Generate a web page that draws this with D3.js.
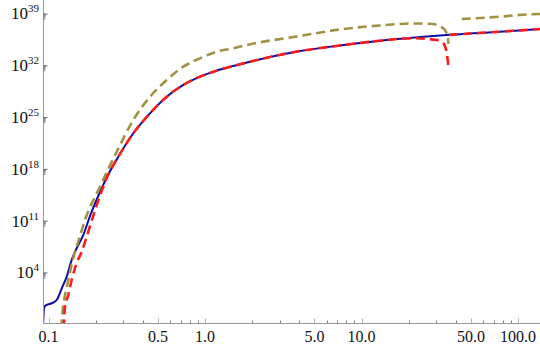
<!DOCTYPE html>
<html>
<head>
<meta charset="utf-8">
<script src="https://cdn.jsdelivr.net/npm/d3@7"></script>
<style>
  html, body { margin: 0; padding: 0; background: #fff; }
  svg { display: block; }
</style>
</head>
<body>
<svg id="chart" width="540" height="346"></svg>
<script>
// ---------- data ----------
const xTickLabels = ["0.1", "0.5", "1.0", "5.0", "10.0", "50.0", "100.0"];
const xMajorTicks = [0.1, 0.5, 1, 5, 10, 50, 100];
const xMinorTicks = [0.2, 0.3, 0.4, 0.6, 0.7, 0.8, 0.9, 2, 3, 4, 6, 7, 8, 9, 20, 30, 40, 60, 70, 80, 90];
const yTickExponents = [4, 11, 18, 25, 32, 39];

const blueX = [0.0924, 0.0936, 0.0950, 0.0974, 0.1048, 0.1128, 0.1215, 0.1307, 0.1406, 0.1514, 0.1669, 0.1842,
  0.2133, 0.2400, 0.2740, 0.3483, 0.4452, 0.5691, 0.7267, 0.929, 1.188, 1.516, 1.939, 4.05, 7.29, 13.13, 35.03, 76.7, 138.2];
const blueY = [1e-3, 0.186, 0.347, 0.479, 0.813, 2.24, 85.1, 3.2e3, 5.75e5, 2.19e7, 1.38e9, 5.0e11,
  8.9e14, 1.74e17, 2.57e19, 7.59e22, 3.80e25, 6.61e27, 2.57e29, 3.39e30, 2.19e31, 9.33e31, 3.55e32, 1.0e34, 5.50e34, 2.45e35, 1.45e36, 4.07e36, 9.33e36];

const redX1 = [0.1250, 0.1275, 0.1338, 0.1406, 0.1514, 0.1630, 0.1753, 0.1842, 0.2133, 0.2400, 0.2740, 0.3483, 0.4452,
  0.5691, 0.7267, 0.929, 1.188, 1.516, 1.939, 4.05, 7.29, 13.13, 21.34, 30.24, 33.32, 35.03, 35.85];
const redY1 = [3.2e-4, 0.282, 10.7, 1.12e3, 2.24e5, 7.59e6, 8.13e8, 2.24e10, 2.95e14, 1.74e17, 2.57e19, 7.59e22, 3.80e25,
  6.61e27, 2.57e29, 3.39e30, 2.19e31, 9.33e31, 3.55e32, 1.0e34, 5.50e34, 2.45e35, 5.25e35, 3.09e35, 1.10e35, 4.90e33, 1.29e32];
const redX2 = [36.24, 76.7, 138.2];
const redY2 = [1.51e36, 4.07e36, 9.33e36];

const oliveX1 = [0.1205, 0.1229, 0.1265, 0.1318, 0.1358, 0.1440, 0.1573, 0.1710, 0.2133, 0.2728, 0.3483, 0.4452,
  0.5691, 0.7267, 0.929, 1.188, 1.516, 1.847, 4.05, 7.29, 13.13, 21.34, 27.4, 30.37, 32.69, 34.42, 35.44, 35.96];
const oliveY1 = [3.2e-4, 0.0537, 4.17, 240, 5.37e3, 9.77e5, 4.90e8, 1.45e11, 4.57e15, 2.45e20, 4.79e24, 6.61e27,
  1.20e30, 7.59e31, 1.02e33, 8.13e33, 2.29e34, 6.46e34, 1.07e36, 8.13e36, 2.82e37, 5.25e37, 4.79e37, 3.24e37, 1.51e37, 5.01e36, 1.07e36, 8.91e34];
const oliveX2 = [43.7, 71.3, 119.3, 138.2];
const oliveY2 = [2.09e38, 3.89e38, 9.12e38, 1.0e39];

// ---------- layout ----------
const svg = d3.select("#chart");
const mLeft = 43, mRight = 540, mTop = 2, mBottom = 323;
const serif = "'Liberation Serif', Tinos, 'DejaVu Serif', 'Noto Serif', serif";

const x = d3.scaleLog().domain([0.09222, 138.2]).range([mLeft, mRight]);
const y = d3.scaleLog().domain([Math.pow(10, -2.757), Math.pow(10, 40.62)]).range([mBottom, mTop]);

svg.append("defs").append("clipPath").attr("id", "clip")
  .append("rect").attr("x", mLeft).attr("y", 0).attr("width", mRight - mLeft).attr("height", mBottom);

const zip = (xs, ys) => xs.map((v, i) => [v, ys[i]]);
const line = d3.line().x(d => x(d[0])).y(d => y(d[1])).curve(d3.curveMonotoneX);

const plot = svg.append("g").attr("clip-path", "url(#clip)");

plot.append("path").datum(zip(blueX, blueY))
  .attr("d", line).attr("fill", "none").attr("stroke", "#0d0da6").attr("stroke-width", 2);

const oliveColor = "#a09145";
[zip(oliveX1, oliveY1), zip(oliveX2, oliveY2)].forEach(seg => {
  plot.append("path").datum(seg)
    .attr("d", line).attr("fill", "none").attr("stroke", oliveColor)
    .attr("stroke-width", 2.6).attr("stroke-dasharray", "9,5");
});
[zip(redX1, redY1), zip(redX2, redY2)].forEach(seg => {
  plot.append("path").datum(seg)
    .attr("d", line).attr("fill", "none").attr("stroke", "#ff1a1a")
    .attr("stroke-width", 2.6).attr("stroke-dasharray", "9,5");
});

// ---------- axes ----------
const axisColor = "#9a9a9a";
const ax = svg.append("g");
ax.append("line").attr("x1", mLeft).attr("x2", mRight).attr("y1", mBottom + 0.5).attr("y2", mBottom + 0.5)
  .attr("stroke", axisColor).attr("stroke-width", 1);
ax.append("line").attr("x1", mLeft + 0.5).attr("x2", mLeft + 0.5).attr("y1", 0).attr("y2", mBottom)
  .attr("stroke", axisColor).attr("stroke-width", 1);

// x ticks
xMajorTicks.forEach((v, i) => {
  const px = Math.round(x(v)) + 0.5;
  ax.append("line").attr("x1", px).attr("x2", px).attr("y1", mBottom).attr("y2", mBottom - 4.5)
    .attr("stroke", "#b0b0b0");
  ax.append("text").attr("x", x(v)).attr("y", 341.5).attr("text-anchor", "middle")
    .style("font-family", serif).style("font-size", "16px")
    .attr("fill", "#111").text(xTickLabels[i]);
});
xMinorTicks.forEach(v => {
  const px = Math.round(x(v)) + 0.5;
  ax.append("line").attr("x1", px).attr("x2", px).attr("y1", mBottom).attr("y2", mBottom - 2.5)
    .attr("stroke", "#808080");
});

// y ticks
yTickExponents.forEach(e => {
  const major = Math.pow(10, e);
  const py = y(major);
  ax.append("line").attr("x1", mLeft).attr("x2", mLeft + 4.5).attr("y1", py).attr("y2", py)
    .attr("stroke", "#606060");
  for (let k = 2; k <= 9; k++) {
    const pm = y(Math.pow(10, e - 1) * k);
    ax.append("line").attr("x1", mLeft).attr("x2", mLeft + 2.5).attr("y1", pm).attr("y2", pm)
      .attr("stroke", "#808080").attr("stroke-width", 0.8);
  }
  const t = ax.append("text").attr("x", 39).attr("y", py + 5.5).attr("text-anchor", "end")
    .style("font-family", serif).style("font-size", "17px").attr("fill", "#111");
  t.append("tspan").text("10");
  t.append("tspan").attr("dy", -7).style("font-size", "11px").text(String(e));
});
</script>
</body>
</html>
